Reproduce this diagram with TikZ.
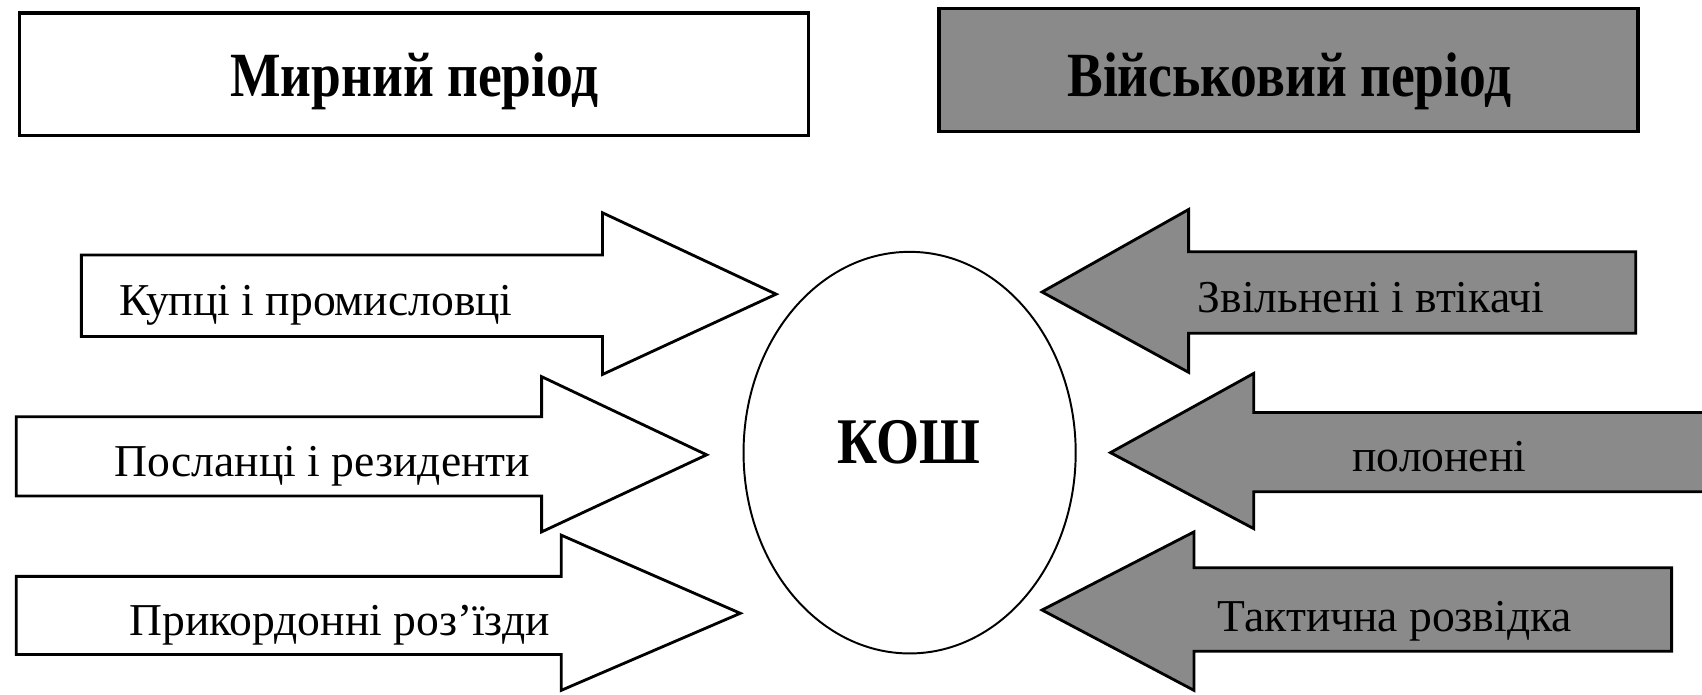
\documentclass[tikz,border=0pt]{standalone}
\usepackage{fontspec}
\setmainfont{Liberation Serif}
\newfontfamily\condfont[FakeStretch=0.85]{Liberation Serif}
\definecolor{warfill}{RGB}{138,138,138}
\tikzset{
  peace/.style={draw=black, line width=2.6pt, fill=white, line join=miter},
  war/.style={draw=black, line width=2.6pt, fill=warfill, line join=miter},
  headtext/.style={anchor=base, inner sep=0pt, font=\condfont\bfseries\fontsize{58}{60}\selectfont},
  labtext/.style={anchor=base, inner sep=0pt, font=\fontsize{42}{44}\selectfont},
  koshtext/.style={anchor=base, inner sep=0pt, font=\condfont\bfseries\fontsize{60}{62}\selectfont}
}
\begin{document}
\begin{tikzpicture}[x=1pt,y=-1pt]
\useasboundingbox (0,0) rectangle (1568,640);
% header boxes
\draw[peace, line width=3.2pt] (18,12) rectangle (745,125);
\draw[war, line width=3.2pt] (865,8) rectangle (1509,121);
\node[headtext] (hpeace) at (382,89) {Мирний період};
\node[headtext] (hwar) at (1188,89) {Військовий період};
% central ellipse
\draw[line width=1.8pt] (838,417) ellipse [x radius=153, y radius=185];
\node[koshtext] (kosh) at (837,427) {КОШ};
% left arrows
\draw[peace] (75,235) -- (555,235) -- (555,196) -- (715,271) -- (555,345) -- (555,310) -- (75,310) -- cycle;
\draw[peace] (15,384) -- (499,384) -- (499,347) -- (651,419) -- (499,490) -- (499,457) -- (15,457) -- cycle;
\draw[peace] (15,531) -- (517,531) -- (517,493) -- (682,565) -- (517,636) -- (517,603) -- (15,603) -- cycle;
\node[labtext] (l1) at (291,291) {Купці і промисловці};
\node[labtext] (l2) at (297,439) {Посланці і резиденти};
\node[labtext] (l3) at (313,585) {Прикордонні роз’їзди};
% right arrows
\draw[war] (1507,232) -- (1095,232) -- (1095,193) -- (960,269) -- (1095,343) -- (1095,307) -- (1507,307) -- cycle;
\draw[war] (1572,380) -- (1155,380) -- (1155,344) -- (1023,417) -- (1155,487) -- (1155,453) -- (1572,453) -- cycle;
\draw[war] (1540,523) -- (1100,523) -- (1100,490) -- (960,562) -- (1100,636) -- (1100,600) -- (1540,600) -- cycle;
\node[labtext] (r1) at (1263,288) {Звільнені і втікачі};
\node[labtext] (r2) at (1326,434) {полонені};
\node[labtext] (r3) at (1285,582) {Тактична розвідка};
\end{tikzpicture}
\end{document}
